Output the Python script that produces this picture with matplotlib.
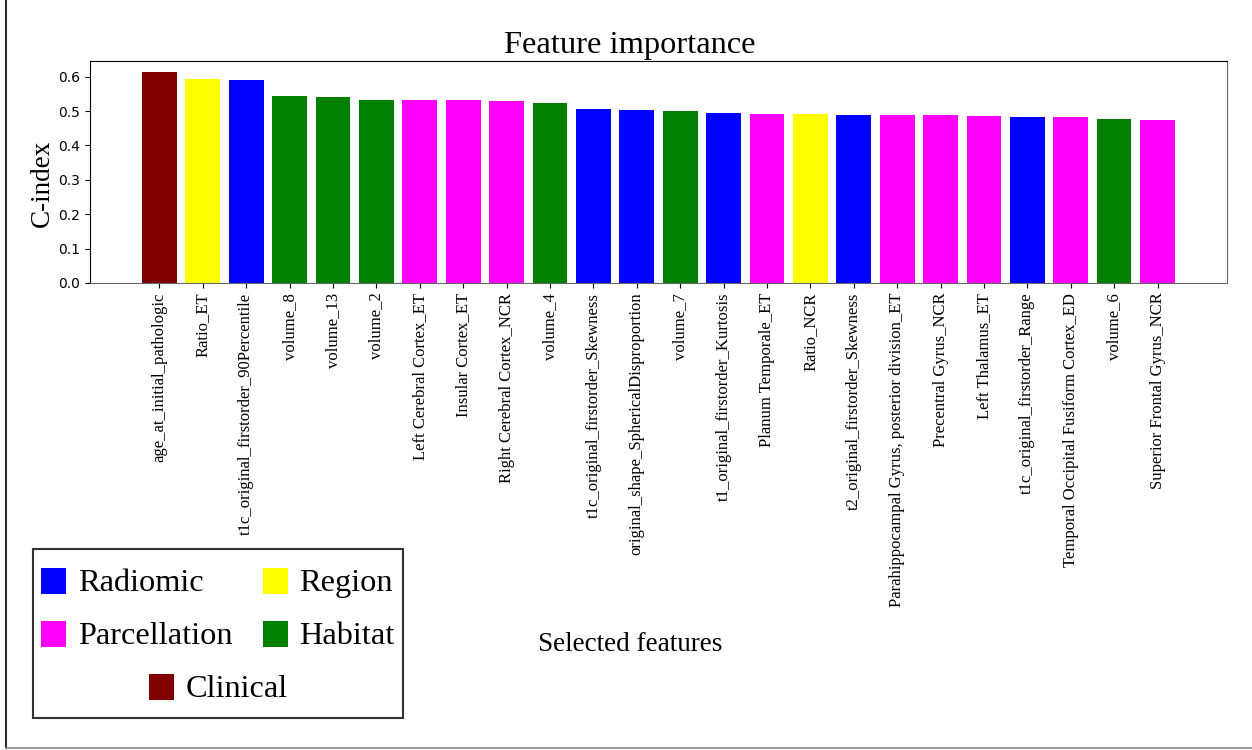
import matplotlib
matplotlib.use("Agg")
import matplotlib.pyplot as plt
from matplotlib.legend import Legend
from matplotlib.legend_handler import HandlerPatch
from matplotlib.patches import Patch, Rectangle
from matplotlib.lines import Line2D

features = [
    "age_at_initial_pathologic", "Ratio_ET", "t1c_original_firstorder_90Percentile",
    "volume_8", "volume_13", "volume_2", "Left Cerebral Cortex_ET", "Insular Cortex_ET",
    "Right Cerebral Cortex_NCR", "volume_4", "t1c_original_firstorder_Skewness",
    "original_shape_SphericalDisproportion", "volume_7", "t1_original_firstorder_Kurtosis",
    "Planum Temporale_ET", "Ratio_NCR", "t2_original_firstorder_Skewness",
    "Parahippocampal Gyrus, posterior division_ET", "Precentral Gyrus_NCR",
    "Left Thalamus_ET", "t1c_original_firstorder_Range",
    "Temporal Occipital Fusiform Cortex_ED", "volume_6", "Superior Frontal Gyrus_NCR",
]
cindex = [0.615, 0.594, 0.591, 0.545, 0.542, 0.533, 0.533, 0.533, 0.530, 0.524,
          0.507, 0.504, 0.501, 0.495, 0.492, 0.492, 0.489, 0.489, 0.489, 0.486,
          0.4835, 0.4835, 0.478, 0.475]
groups = ["Clinical", "Region", "Radiomic", "Habitat", "Habitat", "Habitat",
          "Parcellation", "Parcellation", "Parcellation", "Habitat", "Radiomic",
          "Radiomic", "Habitat", "Radiomic", "Parcellation", "Region", "Radiomic",
          "Parcellation", "Parcellation", "Parcellation", "Radiomic", "Parcellation",
          "Habitat", "Parcellation"]
group_colors = {"Radiomic": "blue", "Region": "yellow", "Parcellation": "magenta",
                "Habitat": "green", "Clinical": "maroon"}
# column-major order for a 2-column legend: rows Radiomic/Region, Parcellation/Habitat
legend_order = ["Radiomic", "Parcellation", "Region", "Habitat", "Clinical"]

SERIF = "Liberation Serif"

fig = plt.figure(figsize=(12.52, 7.5), dpi=100)
ax = fig.add_axes([0.0719, 0.6227, 0.9081, 0.296])

x = list(range(len(features)))
ax.bar(x, cindex, width=0.8, color=[group_colors[g] for g in groups])
ax.set_xlim(-1.6, len(features) - 1 + 1.6)
ax.set_xticks(x)
ax.set_xticklabels(features, rotation=90, fontsize=12, family=SERIF)
ax.set_yticks([0.0, 0.1, 0.2, 0.3, 0.4, 0.5, 0.6])
ax.tick_params(axis="y", labelsize=10)

ax.spines["bottom"].set_color("#666666")
ax.spines["right"].set_color("#666666")

ax.set_title("Feature importance", fontsize=23.4, family=SERIF, x=0.475)
ax.set_ylabel("C-index", fontsize=19.5, family=SERIF)
ax.yaxis.set_label_coords(-0.0308, 0.45)
ax.set_xlabel("Selected features", fontsize=19.5, family=SERIF)
ax.xaxis.set_label_coords(0.475, -1.573)


# square legend handle sitting on the text baseline, independent of row height
def square_patch(legend, orig_handle, xdescent, ydescent, width, height, fontsize):
    return Rectangle((-xdescent, -2.0), width, width)


handler = {Patch: HandlerPatch(patch_func=square_patch)}

prop = {"family": SERIF, "size": 23.3}
common = dict(prop=prop, handlelength=0.78, handleheight=1.85, handletextpad=0.35,
              columnspacing=0.95, labelspacing=0.19, borderpad=0.25, borderaxespad=0,
              handler_map=handler)
handles = [Patch(facecolor=group_colors[g], edgecolor="none") for g in legend_order]
leg = fig.legend(handles[:4], legend_order[:4], ncol=2, loc="lower left",
                 bbox_to_anchor=(0.0264, 0.0427), frameon=True, fancybox=False,
                 edgecolor="#333333", framealpha=1, **common)
leg.get_frame().set_linewidth(1.5)
leg2 = Legend(fig, handles[4:], legend_order[4:], ncol=1, frameon=False, **common)
leg._legend_box.get_children().append(leg2._legend_handle_box)

# figure border lines (left and bottom)
fig.add_artist(Line2D([0.0048, 0.0048], [0.0027, 1.0], color="black", lw=1.2,
                      transform=fig.transFigure))
fig.add_artist(Line2D([0.0048, 1.0], [0.0027, 0.0027], color="#888888", lw=1.2,
                      transform=fig.transFigure))

fig.savefig("out.png", dpi=100)
